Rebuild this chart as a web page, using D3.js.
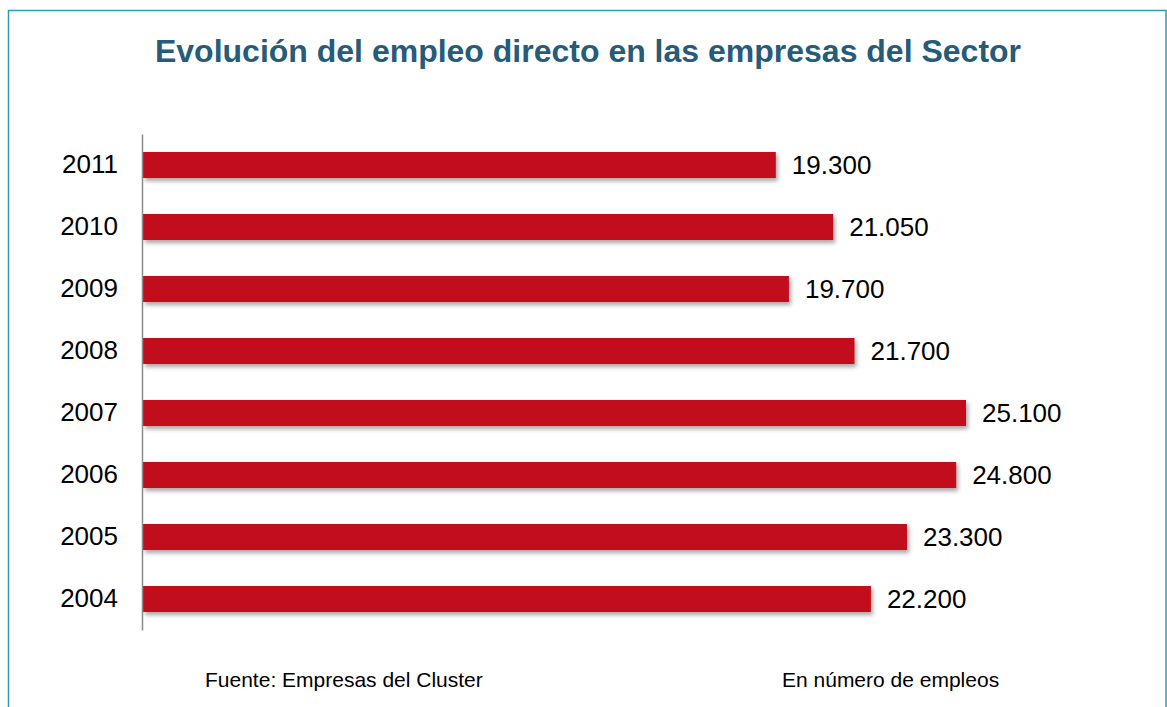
<!DOCTYPE html>
<html>
<head>
<meta charset="utf-8">
<script src="https://cdn.jsdelivr.net/npm/d3@7"></script>
<style>
  body { margin: 0; background: #fff; }
  svg { display: block; font-family: "Liberation Sans", Arial, sans-serif; }
</style>
</head>
<body>
<svg id="chart"></svg>
<script>
document.addEventListener("DOMContentLoaded", () => {
    // Datos del gráfico
    const years = ["2011", "2010", "2009", "2008", "2007", "2006", "2005", "2004"];
    const employees = [19300, 21050, 19700, 21700, 25100, 24800, 23300, 22200];
    const valueLabels = ["19.300", "21.050", "19.700", "21.700", "25.100", "24.800", "23.300", "22.200"];

    const title = "Evolución del empleo directo en las empresas del Sector";
    const source = "Fuente: Empresas del Cluster";
    const unitNote = "En número de empleos";

    const data = years.map((y, i) => ({ year: y, value: employees[i], label: valueLabels[i] }));

    const width = 1167, height = 707;

    const svg = d3.select("#chart")
        .attr("width", width)
        .attr("height", height);

    // Sombra de las barras
    const defs = svg.append("defs");
    const shadow = defs.append("filter")
        .attr("id", "shadow")
        .attr("x", "-5%").attr("y", "-50%")
        .attr("width", "110%").attr("height", "220%");
    shadow.append("feDropShadow")
        .attr("dx", 2).attr("dy", 3)
        .attr("stdDeviation", 2.2)
        .attr("flood-color", "#000")
        .attr("flood-opacity", 0.35);

    // Marco
    svg.append("rect")
        .attr("x", 8.5).attr("y", 10.5)
        .attr("width", 1157.5).attr("height", 710)
        .attr("fill", "none")
        .attr("stroke", "#2a9bb5")
        .attr("stroke-width", 1.5);

    // Título
    svg.append("text")
        .attr("x", 588).attr("y", 62)
        .attr("text-anchor", "middle")
        .attr("fill", "#265b79")
        .style("font-size", "32px")
        .style("font-weight", "bold")
        .text(title);

    // Escalas
    const x = d3.scaleLinear()
        .domain([0, 25100])
        .range([143, 966]);

    const y = d3.scaleBand()
        .domain(years)
        .range([134, 630])
        .paddingInner(0.58)
        .paddingOuter(0.29);

    // Barras
    svg.append("g")
        .selectAll("rect")
        .data(data)
        .enter()
        .append("rect")
        .attr("x", x(0))
        .attr("y", d => y(d.year))
        .attr("width", d => x(d.value) - x(0))
        .attr("height", y.bandwidth())
        .attr("fill", "#c20e1b")
        .attr("filter", "url(#shadow)");

    // Eje vertical con etiquetas de años
    const yAxis = svg.append("g")
        .attr("transform", `translate(${x(0) - 1},0)`)
        .call(d3.axisLeft(y).tickSize(0).tickPadding(24));
    yAxis.select(".domain")
        .attr("stroke", "#8c8c8c")
        .attr("stroke-width", 1.5);
    yAxis.selectAll("text")
        .attr("fill", "#000")
        .style("font-size", "26px")
        .style("font-family", "'Liberation Sans', Arial, sans-serif");

    // Etiquetas de valor
    svg.append("g")
        .selectAll("text")
        .data(data)
        .enter()
        .append("text")
        .attr("x", d => x(d.value) + 16)
        .attr("y", d => y(d.year) + y.bandwidth() / 2)
        .attr("dy", "0.36em")
        .attr("fill", "#000")
        .style("font-size", "26px")
        .text(d => d.label);

    // Notas al pie
    svg.append("text")
        .attr("x", 205).attr("y", 687)
        .attr("fill", "#000")
        .style("font-size", "21px")
        .text(source);

    svg.append("text")
        .attr("x", 782).attr("y", 687)
        .attr("fill", "#000")
        .style("font-size", "21px")
        .text(unitNote);
});
</script>
</body>
</html>
